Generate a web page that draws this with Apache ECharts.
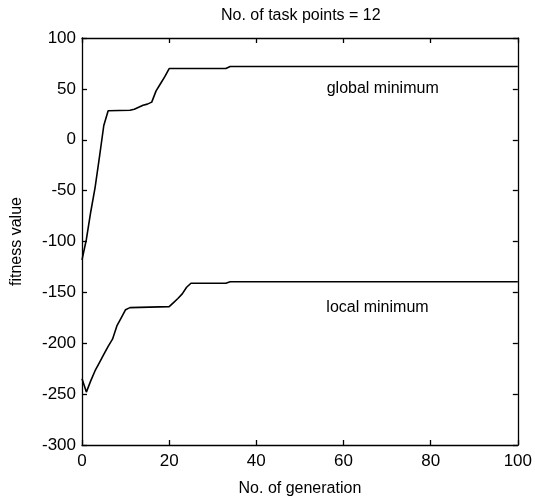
<!DOCTYPE html>
<html>
<head>
<meta charset="utf-8">
<script src="https://cdn.jsdelivr.net/npm/echarts@6/dist/echarts.min.js"></script>
<style>
  html, body { margin: 0; padding: 0; background: #fff; }
  #chart { width: 535px; height: 502px; }
</style>
</head>
<body>
<div id="chart"></div>
<script>
// values
const globalGen = [0, 1, 2, 3, 4, 5, 6, 11, 12, 13, 14, 15, 16, 17, 18, 19, 20, 33, 34, 100]
const globalVal = [-118, -98, -71, -47, -17, 14, 28.5, 29, 30, 32, 34, 35, 37, 48, 55, 62, 70, 70, 72, 72]
const localGen = [0, 1, 2, 3, 4, 5, 6, 7, 8, 9, 10, 11, 20, 21, 22, 23, 24, 25, 33, 34, 100]
const localVal = [-235, -248, -237, -227, -219, -211, -203, -196, -183, -175, -167, -165, -164, -160, -156, -151.5, -145, -141, -141, -139.5, -139.5]
const xTicks = [0, 20, 40, 60, 80, 100]
const yTicks = [-300, -250, -200, -150, -100, -50, 0, 50, 100]
const notes = [
  {name: 'global minimum', coord: [69, 50]},
  {name: 'local minimum', coord: [67.8, -165]}
]

const font = '"Liberation Sans Narrow", "Liberation Sans", Arial, sans-serif'

function pairs(xs, ys) {
  return xs.map((x, i) => [x, ys[i]])
}

const baseAxis = {
  type: 'value',
  axisLine: {show: true, onZero: false, lineStyle: {color: '#000', width: 1.3}},
  axisTick: {show: true, inside: true, length: 5, lineStyle: {color: '#000', width: 1.3}},
  splitLine: {show: false}
}

let myChart = echarts.init(document.getElementById('chart'))
myChart.setOption({
  animation: false,
  title: {
    text: 'No. of task points = 12',
    left: 216,
    top: 3,
    textStyle: {fontFamily: font, fontSize: 16, fontWeight: 'normal', color: '#000'}
  },
  grid: {left: 82, right: 15, top: 38, bottom: 52},
  xAxis: [
    Object.assign({}, baseAxis, {
      min: xTicks[0], max: xTicks[xTicks.length - 1], interval: 20,
      name: 'No. of generation',
      nameLocation: 'middle',
      nameGap: 36,
      nameTextStyle: {fontFamily: font, fontSize: 16, color: '#000'},
      axisLabel: {margin: 8, fontFamily: font, fontSize: 17, color: '#000'}
    }),
    Object.assign({}, baseAxis, {
      position: 'top',
      min: xTicks[0], max: xTicks[xTicks.length - 1], interval: 20,
      axisLabel: {show: false}
    })
  ],
  yAxis: [
    Object.assign({}, baseAxis, {
      min: yTicks[0], max: yTicks[yTicks.length - 1], interval: 50,
      name: 'fitness value',
      nameLocation: 'middle',
      nameGap: 57,
      nameTextStyle: {fontFamily: font, fontSize: 16, color: '#000'},
      axisLabel: {margin: 6, fontFamily: font, fontSize: 17, color: '#000'}
    }),
    Object.assign({}, baseAxis, {
      position: 'right',
      min: yTicks[0], max: yTicks[yTicks.length - 1], interval: 50,
      axisLabel: {show: false}
    })
  ],
  series: [
    {
      name: 'global',
      type: 'line',
      showSymbol: false,
      data: pairs(globalGen, globalVal),
      lineStyle: {color: '#000', width: 1.6},
      markPoint: {
        symbol: 'circle',
        symbolSize: 0,
        label: {show: true, position: 'inside', formatter: '{b}', fontFamily: font, fontSize: 16, color: '#000'},
        data: [{name: notes[0].name, coord: notes[0].coord}]
      }
    },
    {
      name: 'local',
      type: 'line',
      showSymbol: false,
      data: pairs(localGen, localVal),
      lineStyle: {color: '#000', width: 1.6},
      markPoint: {
        symbol: 'circle',
        symbolSize: 0,
        label: {show: true, position: 'inside', formatter: '{b}', fontFamily: font, fontSize: 16, color: '#000'},
        data: [{name: notes[1].name, coord: notes[1].coord}]
      }
    }
  ]
})
</script>
</body>
</html>
